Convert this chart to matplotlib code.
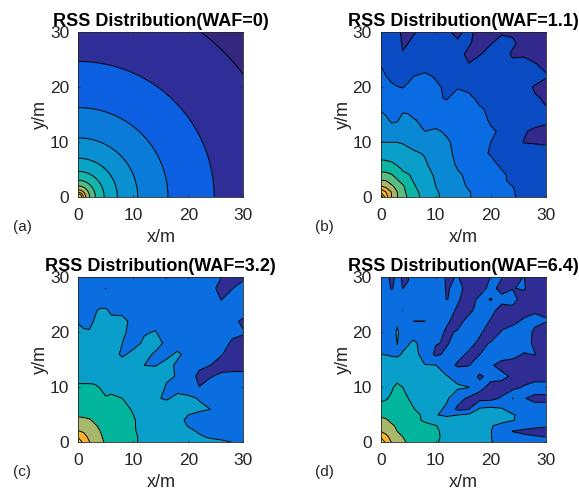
import numpy as np
import matplotlib
matplotlib.use("Agg")
import matplotlib.pyplot as plt

plt.rcParams['font.family'] = ['Liberation Sans', 'DejaVu Sans']

W, H = 579, 491

# (a) has no walls, so RSS only depends on the distance from the AP
radius_a = [0.3, 0.6, 0.9, 1.35, 2.05, 3.1, 4.7, 7.1, 10.8, 16.3, 24.7, 37.4, 44.0]
rss_a = [11, 10, 9, 8, 7, 6, 5, 4, 3, 2, 1, 0, -0.45]

# grid for the other panels, rows are listed from y=30 down to y=0
grid_x = [0, 1, 2, 3, 4, 5, 6, 8, 10, 12, 14, 16, 18, 20, 22, 24, 26, 28, 30]
grid_y = [30, 28, 26, 24, 22, 20, 18, 16, 14, 12, 10, 8, 6, 5, 4, 3, 2, 1, 0]

rss_b = [
    [.7, .7, .6, .3, -.2, -.3, -.1, .4, .4, .1, -.15, .2, -.3, -.4, -.1, -.1, -.4, -.5, -.6],
    [.8, .8, .7, .4, -.1, 0, .3, .6, .6, .5, .1, .1, -.3, -.05, .3, .1, -.2, -.5, -.6],
    [.9, .9, .8, .6, .05, .4, .6, .7, .7, .6, .3, -.2, -.05, .3, .3, -.1, -.1, -.3, -.4],
    [1.0, .9, .8, .8, .8, .9, .95, .8, .8, .7, .1, .05, .4, .6, .1, .2, .3, .1, -.2],
    [1.2, 1.0, .85, .8, .8, .8, 1.0, 1.1, .95, .95, .7, .7, .7, .7, .6, .5, .5, .4, .1],
    [1.45, 1.3, 1.1, 1.02, .98, 1.15, 1.4, 1.5, 1.1, .9, .95, .8, .6, .6, .6, .6, .4, -.1, -.4],
    [1.7, 1.6, 1.5, 1.4, 1.4, 1.5, 1.5, 1.5, 1.1, .95, 1.3, 1.2, .8, .6, .6, .6, .4, .1, -.1],
    [1.95, 1.85, 1.75, 1.8, 1.9, 1.9, 1.75, 1.7, 1.2, 1.3, 1.5, 1.4, 1.1, .85, .7, .6, .6, .5, .05],
    [2.3, 2.1, 1.9, 1.95, 2.2, 2.15, 2.05, 1.85, 1.7, 1.6, 1.5, 1.4, 1.15, .95, .7, .7, .6, .4, .2],
    [2.6, 2.5, 2.3, 2.3, 2.4, 2.4, 2.3, 2.0, 2.1, 1.9, 1.6, 1.4, 1.15, 1.05, .95, .5, .1, -.2, -.3],
    [3.0, 3.0, 3.0, 3.0, 2.95, 2.85, 2.75, 2.5, 2.3, 2.1, 1.8, 1.5, 1.2, 1.0, .7, .3, -.02, -.05, -.1],
    [3.6, 3.6, 3.5, 3.4, 3.3, 3.2, 3.1, 2.95, 2.4, 2.2, 1.8, 1.4, 1.15, .95, .8, .6, .4, .3, .3],
    [4.3, 4.2, 4.15, 3.9, 3.7, 3.5, 3.4, 3.1, 2.7, 2.3, 1.9, 1.6, 1.3, 1.15, .9, .6, .5, .4, .4],
    [4.8, 4.75, 4.6, 4.35, 3.95, 3.7, 3.5, 3.2, 2.8, 2.4, 2.0, 1.7, 1.4, 1.2, 1.0, .7, .5, .4, .4],
    [5.4, 5.3, 5.1, 4.6, 4.2, 4.1, 3.8, 3.3, 2.9, 2.5, 2.15, 1.8, 1.5, 1.3, 1.15, .8, .6, .5, .4],
    [6.1, 6.0, 5.5, 5.15, 4.6, 4.2, 3.95, 3.4, 2.95, 2.55, 2.2, 1.85, 1.6, 1.35, 1.15, .8, .65, .55, .5],
    [7.1, 6.7, 6.2, 5.6, 5.2, 4.5, 4.1, 3.5, 3.0, 2.6, 2.3, 1.9, 1.7, 1.45, 1.25, 1.0, .75, .6, .5],
    [8.9, 7.9, 6.9, 6.0, 5.3, 4.7, 4.3, 3.6, 3.1, 2.7, 2.4, 2.05, 1.75, 1.5, 1.3, 1.05, .8, .7, .6],
    [11, 8.5, 7.0, 6.05, 5.4, 4.9, 4.4, 3.7, 3.15, 2.75, 2.4, 2.05, 1.8, 1.5, 1.3, 1.05, .85, .7, .6],
]

rss_c = [
    [0, 0, 0, 0, 0, 0, -.1, 0, 0, 0, 0, -1.1, 0, 0, 0, -.2, -1.0, -1.8, -1.3],
    [0, 0, 0, 0, 0, -1.03, 0, 0, 0, 0, 0, 0, 0, 0, -.1, -.4, -1.6, -1.05, -.3],
    [.1, .1, .1, .1, .1, .1, .1, 0, 0, 0, 0, 0, 0, 0, 0, -.3, -1.05, -.4, -.1],
    [.4, .4, .5, .85, 1.2, 1.2, .7, .6, .3, .1, .1, 0, 0, 0, 0, 0, -.2, -.2, -.3],
    [.85, .6, .7, 1.1, 1.8, 1.8, 1.4, 1.4, .6, .4, .4, .2, 0, 0, 0, 0, -.1, -.6, -1.3],
    [1.5, 1.2, 1.1, 1.6, 2, 2, 2, 1.3, .4, .85, 1.1, .3, .1, 0, 0, -.1, -.3, -.7, -.9],
    [2, 2, 2, 2, 2, 2, 2, 1.0, .4, 1.3, 1.8, .6, .2, .1, 0, -.2, -.5, -1.2, -1.35],
    [2, 2, 2, 2, 2, 2, 1.8, .7, 1.5, 1.6, .7, .5, 1.3, .5, .1, -.4, -.9, -1.6, -1.9],
    [2.2, 2.2, 2.2, 2.2, 2.2, 2.2, 2.1, 1.8, 1.6, 1.0, .9, 1.6, .7, 0, -.5, -1.0, -1.6, -1.8, -1.8],
    [2.6, 2.6, 2.6, 2.6, 2.6, 2.6, 2.6, 2.4, 2.2, 2, 2, 1.15, .95, .2, -1.6, -1.1, -.7, -.4, -.4],
    [3.2, 3.2, 3.2, 3.15, 2.95, 2.8, 2.75, 2.7, 2.4, 2.2, 1.7, .9, .5, .2, -.95, -.4, -.1, 0, 0],
    [3.6, 3.6, 3.5, 3.5, 3.3, 3.05, 3.15, 3.0, 2.5, 2.2, 1.2, .8, 1.4, 1.3, .9, .9, .1, 0, 0],
    [4.0, 4.0, 3.9, 3.8, 3.7, 3.6, 3.5, 3.3, 2.9, 2.4, 2, 2, 1.8, 1.6, 1.3, 1.0, .4, .1, 0],
    [4.7, 4.6, 4.5, 4.2, 4, 3.8, 3.6, 3.3, 3.0, 2.5, 2.1, 1.9, 1.6, 1.0, .6, .3, .1, 0, 0],
    [5.5, 5.4, 5.2, 4.7, 4.3, 4, 3.8, 3.4, 3.1, 2.6, 2.2, 1.9, 1.5, .7, .3, .2, .1, 0, 0],
    [6.3, 6.1, 5.7, 5.2, 4.7, 4.2, 3.9, 3.5, 3.1, 2.6, 2.3, 2.0, 1.7, .9, .4, .3, .2, .1, 0],
    [7.1, 6.8, 6.1, 5.5, 5, 4.4, 4, 3.5, 3.1, 2.7, 2.4, 2.1, 1.8, 1.4, .8, .5, .3, .2, .1],
    [8.7, 7.6, 6.6, 5.8, 5.2, 4.6, 4.1, 3.6, 3.2, 2.7, 2.4, 2.2, 2, 1.7, 1.2, .8, .6, .4, .2],
    [10.5, 8.4, 7.1, 6, 5.4, 4.8, 4.2, 3.7, 3.2, 2.7, 2.4, 2.2, 2, 1.8, 1.7, 1.5, 1.3, 1.0, .7],
]

rss_d = [
    [0, -.6, -1.4, -.6, -1.15, -1.1, -.4, -.2, -.32, -1.12, -.95, -1.4, -1.8, -.95, -.95, -1.6, -.95, -1.8, -1.8],
    [0, -.6, -1.1, -.6, -1.02, -.8, -.2, -.2, -.2, -1.1, -.72, -1.32, -1.6, -.6, -1.4, -1.05, -.85, -1.8, -1.8],
    [0, -.2, -.3, -.2, -.1, -.1, -.1, -.2, -.5, -1.02, -.84, -1.64, -.7, -1.05, -.65, -.5, -1.68, -1.8, -1.8],
    [0, 0, 0, 0, -1.02, -.2, 0, -.2, -.2, -.4, -1.2, -1.32, -.52, -.64, -1.44, -1.4, -1.8, -1.1, -1.1],
    [0, 0, 0, .8, .2, 0, -1.02, -1.02, -.2, -.84, -1.4, -.6, -.32, -1.12, -1.3, -1.48, -.68, -.76, -.95],
    [.2, .2, .3, 1.2, .4, .3, .3, 0, -.4, -1.2, -.88, -.2, -.8, -1.6, -.92, -.2, -.4, -1.2, -1.5],
    [.3, .4, .5, 1.02, .7, .9, 1.3, .3, -.9, -1.16, -.36, -.6, -1.28, -.92, -.2, -.2, -.44, -1.24, -1.6],
    [1.0, .95, .85, .8, 1.1, 1.4, 1.5, .4, -1.4, -.6, -.6, -1.2, -1.02, -.2, -.2, -.4, -1.1, -.95, -1.6],
    [1.7, 1.7, 1.7, 1.6, 1.5, 1.5, 1.3, 1.05, 1.05, -.4, -1.2, -1.05, -.2, -.8, -1.6, -1.8, -1.8, -1.8, -1.8],
    [2.1, 2.2, 2.3, 2.5, 2.5, 2.3, 2.2, 1.8, 1.5, 1.1, .2, -.3, -1.2, -.6, -.5, -1.28, -1.8, -1.8, -1.8],
    [2.4, 2.6, 2.85, 3.3, 3.0, 2.95, 2.7, 2.2, 2, 1.7, 1.3, 1.05, -.6, -1.4, -1.8, -1.64, -.84, -.2, -.2],
    [2.75, 2.9, 3.2, 3.5, 3.4, 3.0, 2.7, 2.3, 1.9, 1.3, -.3, -1.3, -1.6, -1.6, -.8, 1.05, -.9, -1.4, -1.4],
    [3.5, 3.6, 3.7, 3.7, 3.6, 3.4, 3.05, 2.5, 1.6, .6, -1.4, -1.05, 1.3, 1.6, 1.2, .3, -.3, -.3, -.3],
    [4.7, 4.5, 4.2, 3.9, 3.8, 3.6, 3.3, 2.8, 1.1, .6, .95, 1.3, 1.7, 1.9, 1.6, 1.1, .6, .2, .1],
    [5.4, 5.2, 4.6, 4.2, 4, 3.7, 3.4, 2.8, 2.1, 1.9, 2, 2, 2, 1.8, 1.4, 1.05, .7, .3, .2],
    [6.3, 5.9, 5.3, 4.7, 4.4, 4, 3.8, 3.4, 3.05, 2.5, 2.3, 2.2, 1.9, 1.1, .6, .1, -.4, -.7, -.85],
    [7.0, 6.5, 5.8, 5, 4.6, 4.2, 3.9, 3.5, 3.2, 2.6, 2.4, 2.2, 1.8, 1.05, .3, -1.05, -1.3, -1.4, -1.5],
    [8.8, 7.4, 6.4, 5.5, 5, 4.5, 4.1, 3.6, 3.2, 2.7, 2.5, 2.3, 1.7, 1.05, .3, -.4, -.7, -.9, -1.02],
    [10.8, 8.6, 6.9, 5.9, 5.3, 4.8, 4.3, 3.7, 3.1, 2.7, 2.5, 2.3, 1.7, 1.1, .5, .2, 0, -.2, -.3],
]

titles = ['RSS Distribution(WAF=0)', 'RSS Distribution(WAF=1.1)',
          'RSS Distribution(WAF=3.2)', 'RSS Distribution(WAF=6.4)']
letters = ['(a)', '(b)', '(c)', '(d)']
ticks = [0, 10, 20, 30]

# band colours, low to high
colors_a = ['#35277f', '#2f2e98', '#0b5fe0', '#0a7bd8', '#0a90d0', '#08a4c6', '#12b6aa',
            '#4fbc88', '#a0b96a', '#e0b040', '#fcc02c', '#f8e01c', '#f8f014']
colors_b = ['#33288b', '#0a4ac2', '#0a6ce2', '#0a88d4', '#0a9fc8', '#0cb5a2', '#5abc82',
            '#a8b864', '#e6b03a', '#fcc030', '#f8dc20', '#f8f014', '#f8f014']
colors_cd = ['#2f2c94', '#0a6ee0', '#0a9fca', '#02b59c', '#a8b86a', '#fcb030', '#f8e81c']
levels_ab = np.arange(-1, 13)
levels_cd = np.arange(-3, 12, 2)


def axes_px(left, top):
    # axes box is 165 px square in the reference
    return [left / W, 1 - (top + 165) / H, 165 / W, 165 / H]


def finish(ax, title, letter, left, top):
    ax.set_xlim(0, 30)
    ax.set_ylim(0, 30)
    ax.set_xticks(ticks)
    ax.set_yticks(ticks)
    ax.tick_params(direction='in', top=True, right=True, length=1.7, width=0.5,
                   labelsize=12.5, labelcolor='#262626', color='#262626')
    ax.tick_params(axis='x', pad=8)
    ax.tick_params(axis='y', pad=6.5)
    for s in ax.spines.values():
        s.set_linewidth(0.6)
        s.set_color('#262626')
    ax.set_title(title, fontsize=13, fontweight='bold', color='black', pad=4.5)
    ax.set_xlabel('x/m', fontsize=13, color='#262626', labelpad=4)
    ax.set_ylabel('y/m', fontsize=13, color='#262626', labelpad=0.5)
    fig.text((left - 65.5) / W, 1 - (top + 194.5) / H, letter, fontsize=11,
             color='#262626', va='center')


fig = plt.figure(figsize=(W / 100, H / 100), dpi=100)

# (a) on a polar mesh so the arcs stay round
ax = fig.add_axes(axes_px(78.3, 32.3))
theta = np.linspace(0, np.pi / 2, 181)
r_mesh, t_mesh = np.meshgrid(radius_a, theta)
z_a = np.tile(rss_a, (len(theta), 1))
ax.contourf(r_mesh * np.cos(t_mesh), r_mesh * np.sin(t_mesh), z_a, levels=levels_ab, colors=colors_a)
ax.contour(r_mesh * np.cos(t_mesh), r_mesh * np.sin(t_mesh), z_a, levels=levels_ab[1:], colors='k',
           linewidths=0.7, linestyles='solid')
finish(ax, titles[0], letters[0], 78.3, 32.3)

panels = [(rss_b, levels_ab, colors_b, 380.7, 32.3, 1),
          (rss_c, levels_cd, colors_cd, 78.3, 277.3, 2),
          (rss_d, levels_cd, colors_cd, 380.7, 277.3, 3)]
for rss, levels, cols, left, top, i in panels:
    ax = fig.add_axes(axes_px(left, top))
    ax.contourf(grid_x, grid_y, np.array(rss), levels=levels, colors=cols)
    ax.contour(grid_x, grid_y, np.array(rss), levels=levels, colors='k', linewidths=0.7, linestyles='solid')
    finish(ax, titles[i], letters[i], left, top)

fig.savefig('out.png', dpi=100)
